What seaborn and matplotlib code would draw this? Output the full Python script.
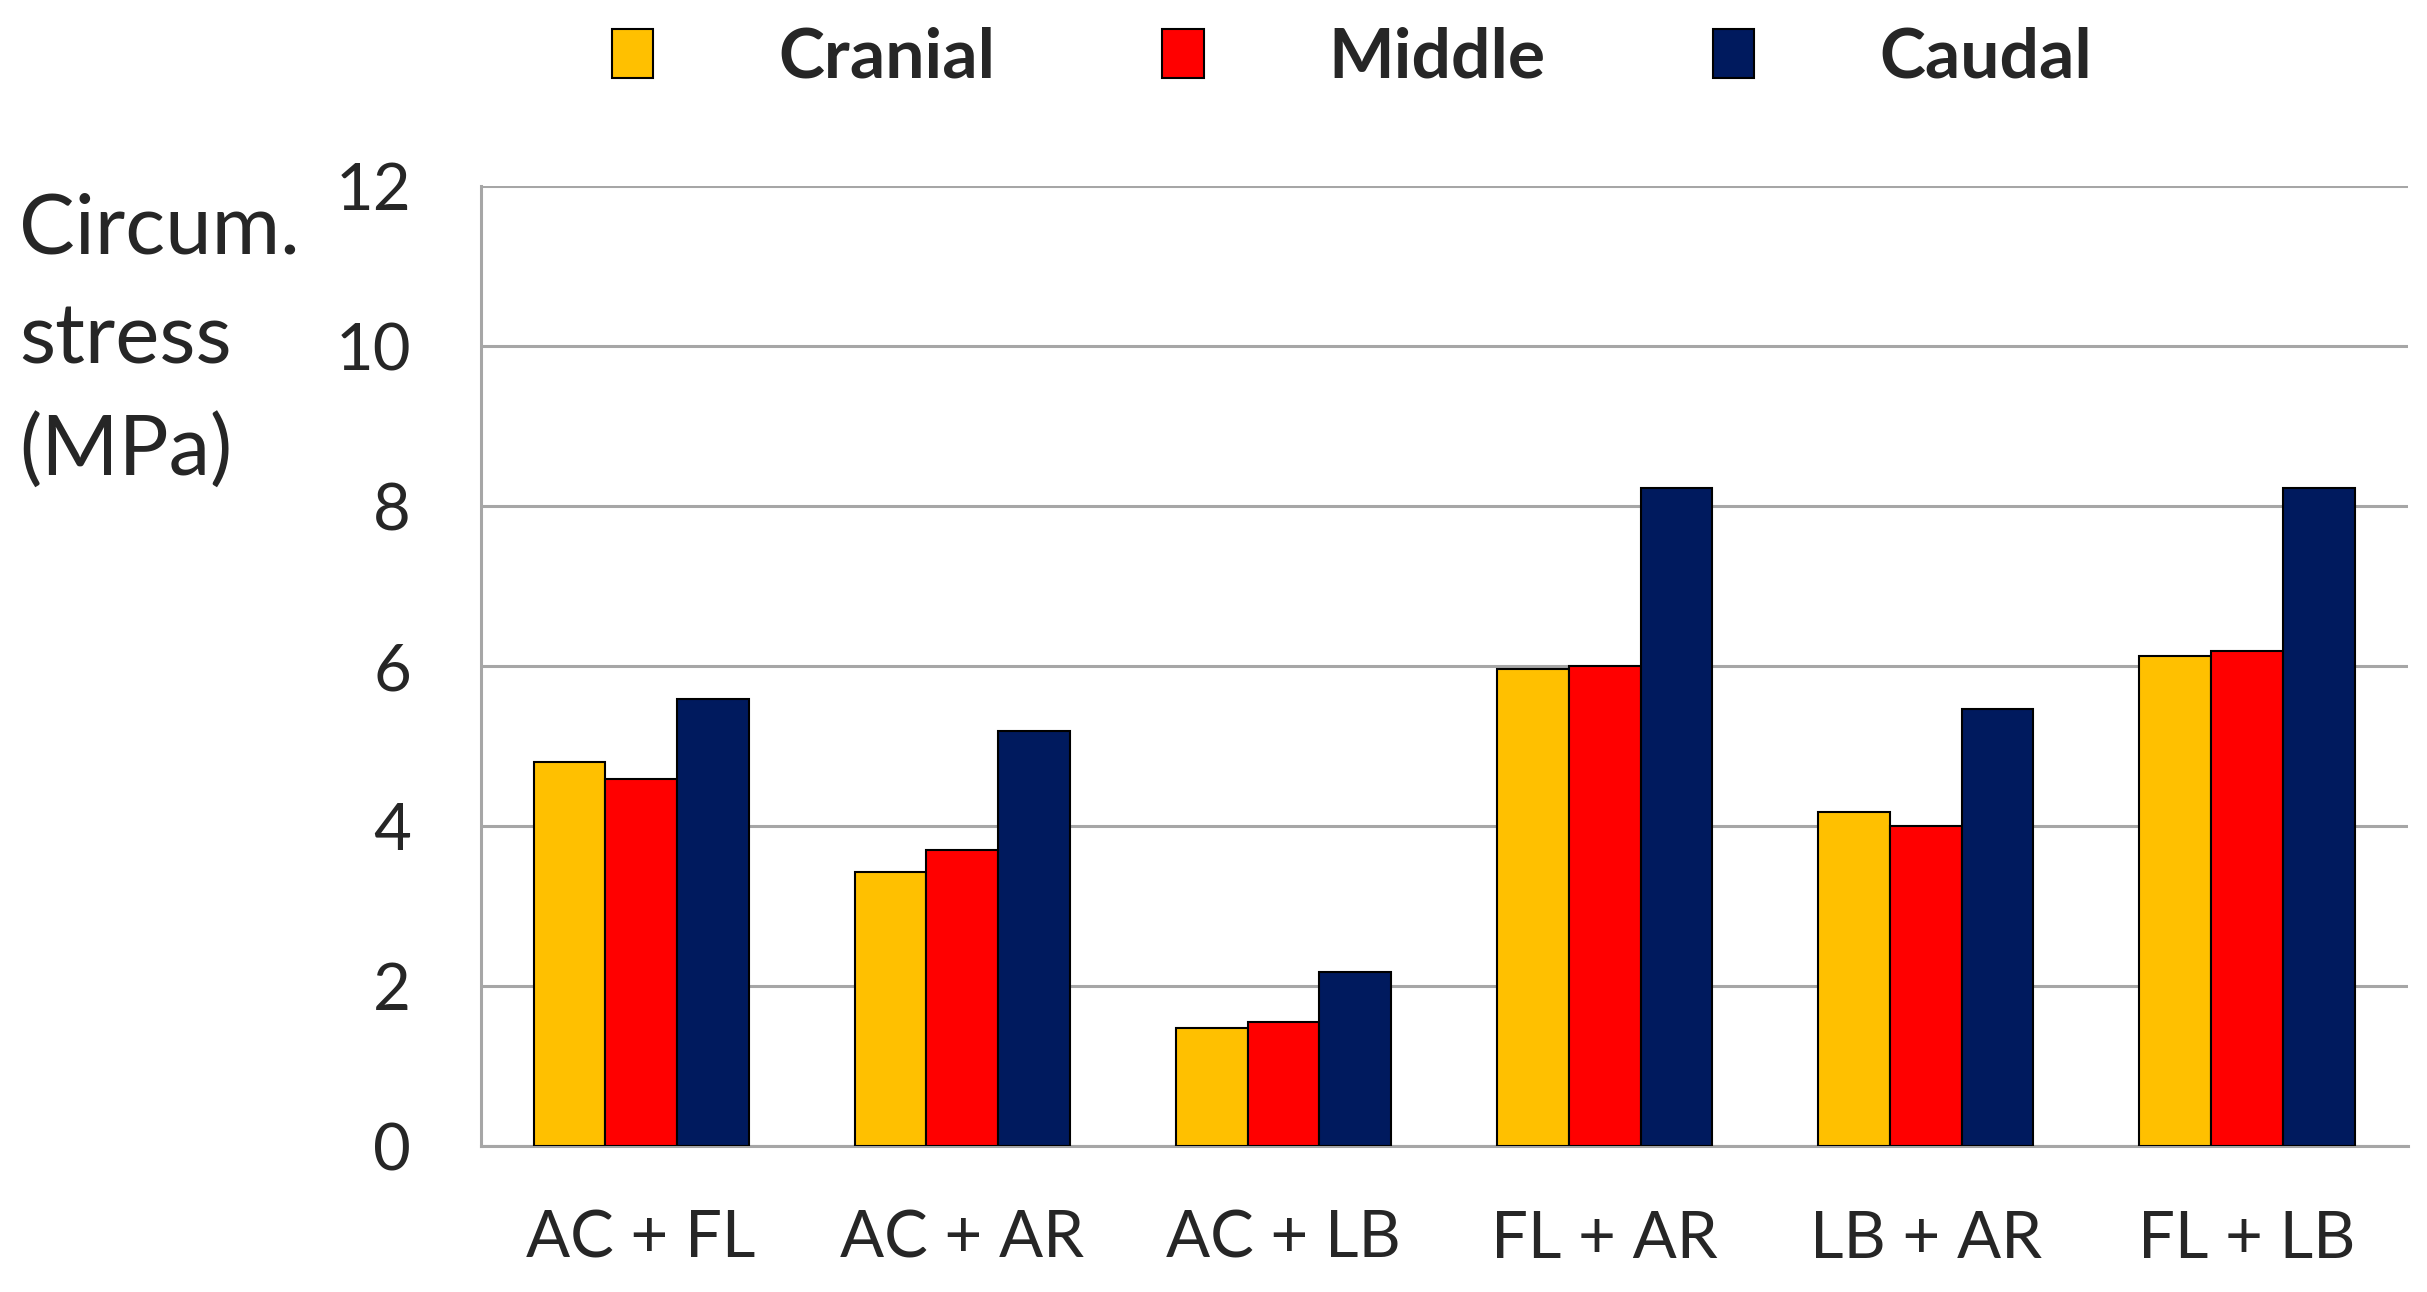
import pandas as pd
import matplotlib.pyplot as plt
import seaborn as sns

# ---------------- DATA ----------------
combos = ["AC + FL", "AC + AR", "AC + LB", "FL + AR", "LB + AR", "FL + LB"]
regions = ["Cranial", "Middle", "Caudal"]
cranial = [4.80, 3.43, 1.47, 5.96, 4.17, 6.12]
middle = [4.59, 3.70, 1.55, 6.00, 4.00, 6.19]
caudal = [5.59, 5.19, 2.17, 8.23, 5.46, 8.23]
yticks = [0, 2, 4, 6, 8, 10, 12]

colors = ["#FFC000", "#FF0000", "#001A5E"]
grid_gray = "#A6A6A6"

df = pd.DataFrame({"combo": combos, "Cranial": cranial, "Middle": middle, "Caudal": caudal})
df = df.melt(id_vars="combo", var_name="region", value_name="stress")

# ---------------- PLOT ----------------
sns.set_style("white")
plt.rcParams['font.family'] = ['Lato', 'DejaVu Sans']

fig = plt.figure(figsize=(24.27, 12.92), dpi=100)
ax = fig.add_axes([0.198, 0.113, 0.794, 0.743])

sns.barplot(data=df, x="combo", y="stress", hue="region", order=combos,
            hue_order=regions, palette=colors, width=0.67, gap=0,
            edgecolor="black", linewidth=1.5, saturation=1, ax=ax, zorder=3)

ax.set_ylim(0, 12)
ax.set_xlim(-0.5, len(combos) - 0.5)
ax.set_yticks(yticks)
ax.yaxis.grid(True, color=grid_gray, linewidth=2.2, zorder=0)
ax.set_axisbelow(True)

for s in ["top", "right"]:
    ax.spines[s].set_visible(False)
for s in ["left", "bottom"]:
    ax.spines[s].set_color(grid_gray)
    ax.spines[s].set_linewidth(2.2)

# tick marks between groups, labels centred on the groups
ax.set_xticks(range(len(combos)))
ax.set_xticklabels(combos)
ax.set_xticks([i - 0.5 for i in range(len(combos) + 1)], minor=True)
ax.tick_params(axis="x", which="major", length=0, pad=46, labelsize=47)
ax.tick_params(axis="x", which="minor", length=20, width=2.2, color=grid_gray)
ax.tick_params(axis="y", length=20, width=2.2, color=grid_gray, pad=30, labelsize=47)
ax.set_xlabel("")
ax.set_ylabel("")

fig.text(0.008, 0.851, "Circum.\nstress\n(MPa)", ha="left", va="top",
         fontsize=60, linespacing=1.56)

handles, labels = ax.get_legend_handles_labels()
ax.get_legend().remove()
fig.legend(handles, labels, loc="center", bbox_to_anchor=(0.557, 0.955), ncol=3,
           frameon=False, prop={"weight": "bold", "size": 50},
           handlelength=0.6, handleheight=0.7, handletextpad=1.8, columnspacing=2.4)

fig.savefig("out.png", dpi=100)
